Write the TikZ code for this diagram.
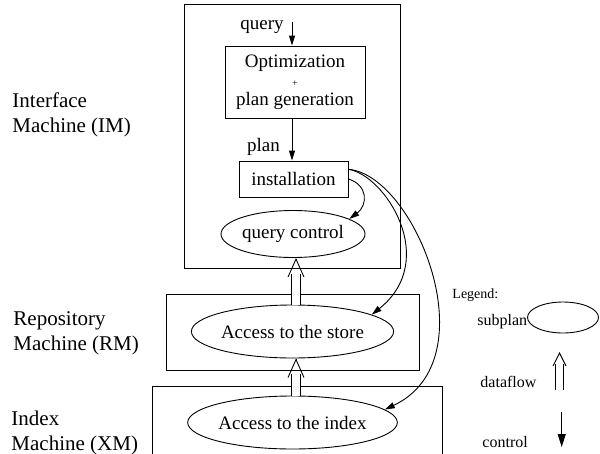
\documentclass[tikz,border=0pt]{standalone}
\usepackage{fontspec}
\setmainfont{Liberation Serif}
\usetikzlibrary{arrows.meta,positioning,shapes.geometric}

\begin{document}
\begin{tikzpicture}[x=1pt,y=-1pt,line width=0.9pt]
  \tikzstyle{machine}=[draw,inner sep=0pt]
  \tikzstyle{op}=[draw,align=center,inner sep=0pt,font=\fontsize{19}{22}\selectfont]
  \tikzstyle{sub}=[draw,ellipse,inner sep=0pt,font=\fontsize{19}{22}\selectfont]
  \tikzstyle{side}=[anchor=base west,align=left,inner sep=0pt,font=\fontsize{21}{25}\selectfont]
  \tikzstyle{tag}=[anchor=base,inner sep=0pt,font=\fontsize{19}{22}\selectfont]
  \tikzstyle{lgdtxt}=[anchor=base west,inner sep=0pt,font=\fontsize{16}{18}\selectfont]
  \tikzstyle{ctl}=[-{Triangle[length=10pt,width=6pt]}]
  \tikzstyle{flow}=[double,double distance=7.4pt,shorten >=16pt]
  \tikzstyle{fhead}=[-{Straight Barb[length=18pt,width=16pt]}]

  \useasboundingbox (0,0) rectangle (600,453);
  \clip (0,0) rectangle (600,453);

  % -- machines --
  \node[machine,minimum width=216,minimum height=264] (im) at (292,136.5) {};
  \node[machine,minimum width=253,minimum height=76] (rm) at (292.5,332) {};
  \node[machine,minimum width=290,minimum height=100] (xm) at (297,436) {};
  \node[side] (imtxt) at (12,132) {Interface\\Machine (IM)};
  \node[side] (rmtxt) at (13,350) {Repository\\Machine (RM)};
  \node[side] (xmtxt) at (11,450) {Index\\Machine (XM)};

  % -- interface machine --
  \node[op,minimum width=140,minimum height=72] (opt) at (295,82)
    {Optimization\\[-3pt]{\fontsize{10}{10}\selectfont +}\\[-3pt]plan generation};
  \node[op,minimum width=109,minimum height=36] (inst) at (293.5,179) {installation};
  \node[sub,minimum width=128,minimum height=47] (qc) at (293,234) {query control};
  \coordinate (qin) at (292,22);
  \node[tag] (qtxt) at (262,29) {query};
  \node[tag] (ptxt) at (263.5,151) {plan};
  \draw[ctl] (qin) -- (qin |- opt.north);
  \draw[ctl] (opt.south -| qin) -- (inst.north -| qin);
  \draw[ctl] (inst.east) .. controls (368,185) and (368,205) .. (qc.15);

  % -- store and index --
  \node[sub,minimum width=169,minimum height=53] (store) at (292.5,331.5) {Access to the store};
  \node[sub,minimum width=171,minimum height=53] (index) at (292.5,422.5) {Access to the index};
  \coordinate (df) at (296,0);
  \draw[flow] (store.north -| df) -- (qc.south -| df);
  \draw[fhead] (qc.south -| df) ++(0,1) -- (qc.south -| df);
  \draw[flow] (index.north -| df) -- (store.south -| df);
  \draw[fhead] (store.south -| df) ++(0,1) -- (store.south -| df);
  \draw[ctl] (inst.10) .. controls (385,175) and (440,260) .. (store.12);
  \draw[ctl] (inst.10) .. controls (415,175) and (490,360) .. (index.8);

  % -- legend --
  \node[anchor=base west,inner sep=0pt,font=\fontsize{14}{16}\selectfont] (lgd) at (452,298) {Legend:};
  \node[lgdtxt] (lsub) at (477,325) {subplan};
  \node[draw,ellipse,minimum width=71,minimum height=31] (lell) at (563,317.5) {};
  \node[lgdtxt] (lflow) at (480,387) {dataflow};
  \node[lgdtxt] (lctl) at (482,447) {control};
  \coordinate (lf1) at (559.5,390);
  \coordinate (lf2) at (559.5,352);
  \coordinate (lc1) at (561.7,412);
  \coordinate (lc2) at (561.7,447);
  \draw[double,double distance=6.7pt,shorten >=12pt] (lf1) -- (lf2);
  \draw[-{Straight Barb[length=13pt,width=13pt]}] (lf2) ++(0,1) -- (lf2);
  \draw[-{Triangle[length=13pt,width=8pt]}] (lc1) -- (lc2);
\end{tikzpicture}
\end{document}
